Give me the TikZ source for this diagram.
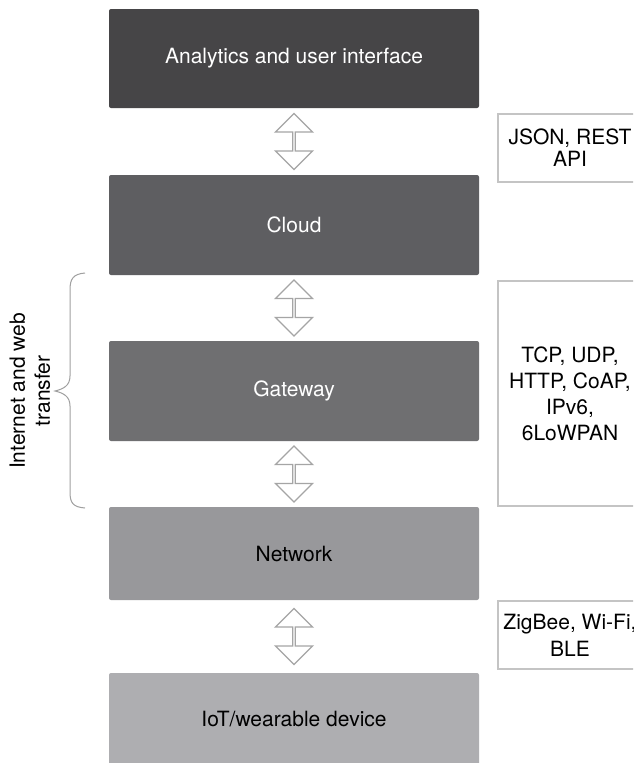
\documentclass[tikz,border=0pt]{standalone}
\usepackage{fontspec}
\setmainfont{TeX Gyre Heros}
\usetikzlibrary{shapes.arrows,calc}
\definecolor{cA}{HTML}{464547}
\definecolor{cB}{HTML}{5E5E61}
\definecolor{cC}{HTML}{6F6F71}
\definecolor{cD}{HTML}{98989B}
\definecolor{cE}{HTML}{AEAEB1}
\definecolor{protoline}{HTML}{C4C4C4}
\definecolor{arrowline}{HTML}{A5A5A5}
\definecolor{braceline}{HTML}{A0A0A0}
\begin{document}
\begin{tikzpicture}[x=1pt,y=-1pt,
  layer/.style={rectangle, rounded corners=2pt, minimum width=370pt, inner sep=0pt, font=\fontsize{21}{25}\selectfont},
  proto/.style={rectangle, draw=protoline, line width=1.2pt, fill=white, minimum width=144pt, inner sep=0pt, align=center, text=black},
  updown/.style={double arrow, draw=arrowline, line width=1.3pt, fill=white, rotate=90, minimum height=56pt, minimum width=37pt, double arrow head extend=9.5pt, inner sep=0pt, double arrow tip angle=90},
  bracestyle/.style={draw=braceline, line width=1pt},
]
\useasboundingbox (0,0) rectangle (633,763);
\clip (0,0) rectangle (633,763);
\fill[white] (0,0) rectangle (633,763);

\node[layer, fill=cA, text=white, minimum height=99pt] (ana) at (294,58.5) {Analytics and user interface};
\node[layer, fill=cB, text=white, minimum height=100pt] (cloud) at (294,225) {Cloud};
\node[layer, fill=cC, text=white, minimum height=100pt] (gw) at (294,391) {Gateway};
\node[layer, fill=cD, text=black, minimum height=93pt] (net) at (294,553.5) {Network};
\node[layer, fill=cE, text=black, minimum height=92pt] (iot) at (294,719) {IoT/wearable device};

\node[updown] (a1) at ($(ana.south)!0.5!(cloud.north)$) {};
\node[updown] (a2) at ($(cloud.south)!0.5!(gw.north)$) {};
\node[updown] (a3) at ($(gw.south)!0.5!(net.north)$) {};
\node[updown] (a4) at ($(net.south)!0.5!(iot.north)$) {};

\node[proto, minimum height=68pt, font=\fontsize{21}{22}\selectfont] (json) at (570,148) {JSON, REST\\API};
\node[proto, minimum height=225pt, font=\fontsize{21}{26}\selectfont] (tcp) at (570,393.5) {TCP, UDP,\\HTTP, CoAP,\\IPv6,\\6LoWPAN};
\node[proto, minimum height=68pt, font=\fontsize{21}{27}\selectfont] (zig) at (570,635) {ZigBee, Wi-Fi,\\BLE};

\draw[bracestyle] (85,273) .. controls (73,274) and (70,279) .. (70,290) -- (70,376)
  .. controls (70,386) and (63,389) .. (55,391)
  .. controls (63,393) and (70,396) .. (70,406) -- (70,492)
  .. controls (70,503) and (73,507) .. (85,508);
\node[rotate=90, align=center, font=\fontsize{21}{25}\selectfont] (lbl) at (30,391) {Internet and web\\transfer};
\end{tikzpicture}
\end{document}
